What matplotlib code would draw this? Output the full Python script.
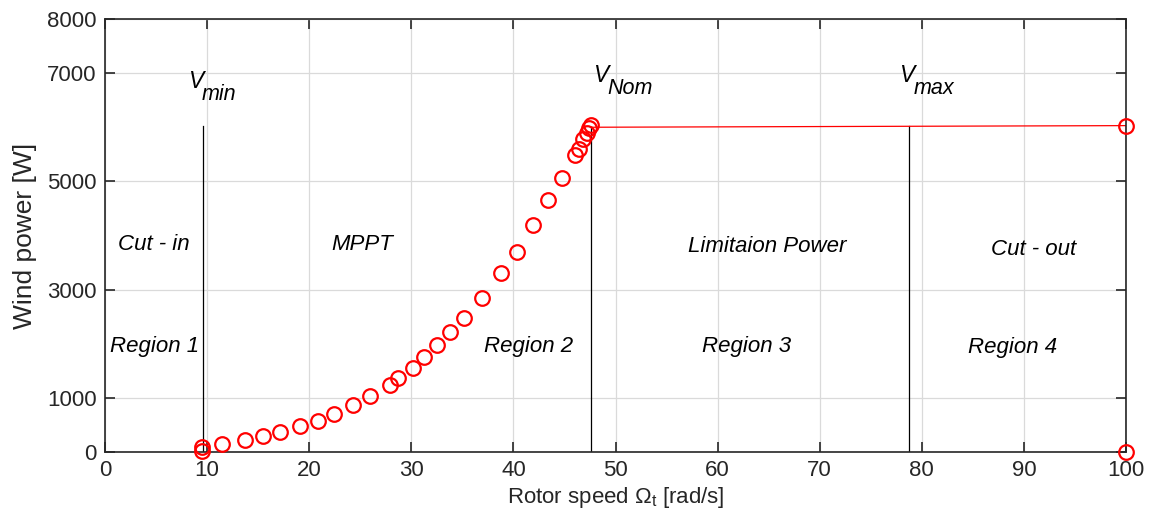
import matplotlib
matplotlib.use("Agg")
import matplotlib.pyplot as plt

plt.rcParams['font.family'] = ['Liberation Sans', 'DejaVu Sans']
plt.rcParams['mathtext.fontset'] = 'custom'
plt.rcParams['mathtext.rm'] = 'Liberation Sans'
plt.rcParams['mathtext.it'] = 'Liberation Sans:italic'

# measured operating points (rotor speed, power)
omega = [9.53, 9.53, 11.49, 13.7, 15.5, 17.14, 19.07, 20.86, 22.46, 24.26,
         25.96, 27.88, 28.73, 30.13, 31.24, 32.55, 33.82, 35.13, 36.9, 38.75,
         40.35, 41.95, 43.42, 44.73, 46.03, 46.43, 46.85, 47.17, 47.43, 47.57,
         100, 100]
power = [98, 15, 143, 216, 290, 365, 475, 580, 703, 864,
         1031, 1241, 1370, 1561, 1753, 1969, 2216, 2475, 2846, 3309,
         3698, 4185, 4648, 5068, 5481, 5605, 5778, 5902, 5994, 6040,
         6030, 0]

# limitation line
lim_x = [47.6, 100]
lim_y = [6000, 6030]

# region borders
v_names = ['min', 'Nom', 'max']
v_speed = [9.63, 47.6, 78.7]
v_top = [6020, 6000, 6020]
v_lab_x = [8.13, 47.8, 77.8]
v_lab_y = [6722, 6833, 6828]

region_text = ['Cut - in', 'MPPT', 'Limitaion Power', 'Cut - out',
               'Region 1', 'Region 2', 'Region 3', 'Region 4']
region_x = [4.8, 25.2, 64.9, 90.9, 4.85, 41.5, 62.8, 88.9]
region_y = [3740, 3740, 3690, 3635, 1852, 1852, 1852, 1833]

xticks = [0, 10, 20, 30, 40, 50, 60, 70, 80, 90, 100]
yticks = [0, 1000, 3000, 5000, 7000, 8000]

dark = '#262626'

fig = plt.figure(figsize=(11.51, 5.32), dpi=100)
ax = fig.add_axes([105 / 1151, 1 - 452 / 532, (1126 - 105) / 1151, (452 - 19) / 532])

ax.grid(True, color='#dadada', lw=0.9)
ax.set_axisbelow(True)

for x, top in zip(v_speed, v_top):
    ax.plot([x, x], [0, top], color='black', lw=0.9)
ax.plot([100, 100], [0, lim_y[1]], color='black', lw=0.9)

ax.plot(lim_x, lim_y, color='red', lw=0.9)
ax.plot(omega, power, 'o', mfc='none', mec='red', ms=10.5, mew=1.6,
        clip_on=False, zorder=5)

for name, x, y in zip(v_names, v_lab_x, v_lab_y):
    ax.text(x, y, 'V', fontsize=16.5, style='italic', ha='left', va='baseline')
    ax.annotate(name, (x, y), xytext=(10, -8.5), textcoords='offset points',
                fontsize=15.5, style='italic', ha='left', va='baseline')

for t, x, y in zip(region_text, region_x, region_y):
    ax.text(x, y, t, fontsize=16, style='italic', ha='center', va='baseline')

ax.set_xlim(0, 100)
ax.set_ylim(0, 8000)
ax.set_xticks(xticks)
ax.set_yticks(yticks)
ax.tick_params(direction='in', length=7, width=1.2, colors=dark,
               labelsize=16, top=True, right=True, pad=6)
for s in ax.spines.values():
    s.set_color(dark)
    s.set_linewidth(1.2)

ax.set_xlabel(r'Rotor speed $\Omega_{\rm t}$ [rad/s]', fontsize=16, color=dark, labelpad=3)
ax.set_ylabel('Wind power [W]', fontsize=19, color=dark, labelpad=7)

fig.savefig('out.png', dpi=100)
